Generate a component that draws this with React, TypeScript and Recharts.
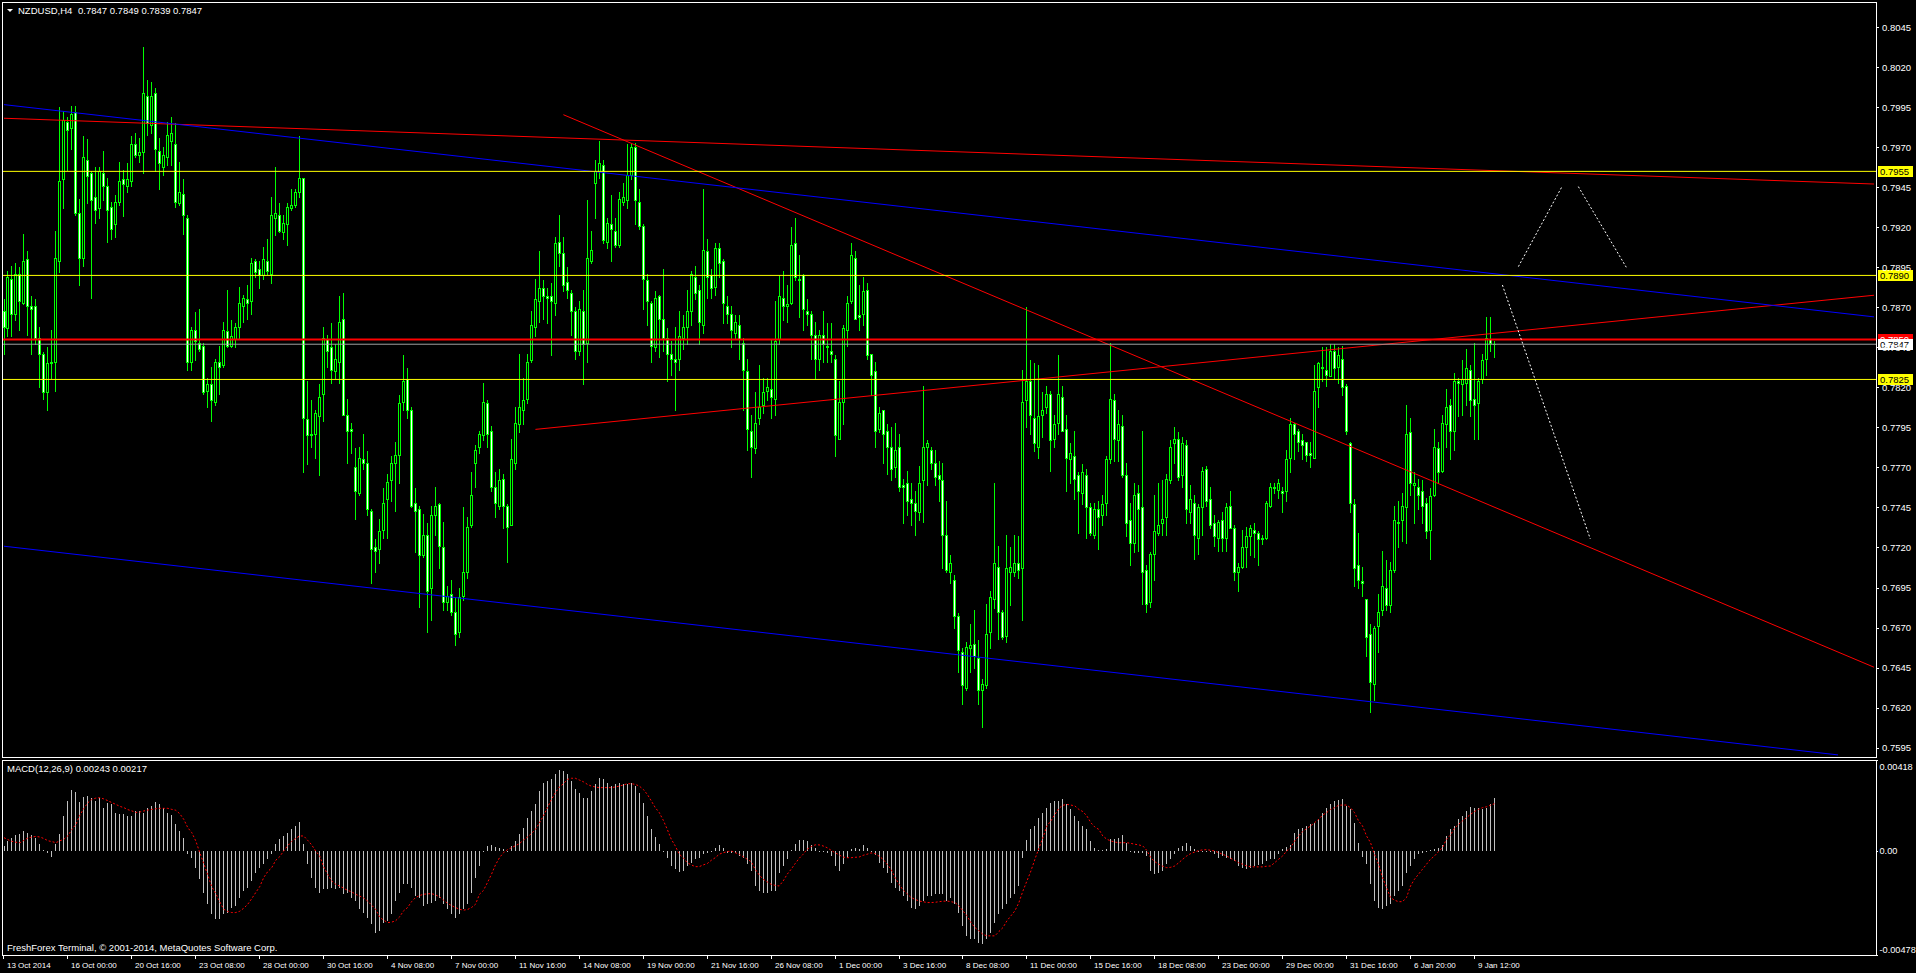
import React from 'react';
import { ComposedChart, Bar, Line, XAxis, YAxis, ReferenceLine } from 'recharts';

// NZDUSD H4 candles, 13 Oct 2014 .. 9 Jan 2015
const opens = [
  .7868, .7857, .7888, .7866, .7891, .7873, .7900, .7871, .7871, .7851,
  .7841, .7817, .7835, .7836, .7899, .7950, .7986, .7982, .7992, .7929,
  .7901, .7962, .7954, .7939, .7932, .7954, .7946, .7933, .7922, .7936,
  .7950, .7946, .7949, .7972, .7965, .7967, .8002, .7984, .8004, .7968,
  .7958, .7964, .7974, .7972, .7935, .7941, .7926, .7836, .7856, .7848,
  .7846, .7818, .7822, .7811, .7836, .7834, .7855, .7846, .7850, .7858,
  .7871, .7875, .7874, .7899, .7894, .7890, .7899, .7891, .7926, .7928,
  .7917, .7922, .7932, .7934, .7942, .7951, .7800, .7790, .7791, .7802,
  .7816, .7850, .7845, .7830, .7836, .7863, .7803, .7794, .7770, .7754,
  .7775, .7773, .7743, .7720, .7719, .7731, .7750, .7762, .7773, .7778,
  .7811, .7825, .7806, .7748, .7744, .7715, .7728, .7695, .7740, .7747,
  .7720, .7686, .7691, .7680, .7667, .7690, .7705, .7734, .7773, .7783,
  .7790, .7810, .7793, .7758, .7746, .7763, .7746, .7734, .7773, .7797,
  .7806, .7813, .7837, .7858, .7874, .7882, .7877, .7877, .7873, .7911,
  .7904, .7886, .7879, .7868, .7843, .7868, .7848, .7899, .7948, .7955,
  .7959, .7911, .7922, .7918, .7909, .7936, .7937, .7953, .7970, .7936,
  .7921, .7887, .7873, .7845, .7877, .7863, .7851, .7841, .7838, .7838,
  .7851, .7858, .7868, .7889, .7881, .7859, .7905, .7890, .7883, .7907,
  .7899, .7871, .7866, .7854, .7859, .7848, .7830, .7793, .7782, .7801,
  .7809, .7818, .7819, .7813, .7850, .7876, .7871, .7873, .7910, .7887,
  .7890, .7868, .7866, .7853, .7838, .7853, .7846, .7843, .7838, .7788,
  .7811, .7856, .7874, .7901, .7865, .7866, .7881, .7841, .7830, .7794,
  .7806, .7793, .7783, .7770, .7783, .7759, .7760, .7750, .7748, .7742,
  .7762, .7783, .7781, .7773, .7765, .7762, .7728, .7705, .7700, .7677,
  .7655, .7632, .7657, .7660, .7651, .7631, .7634, .7667, .7688, .7708,
  .7680, .7665, .7705, .7705, .7710, .7707, .7812, .7824, .7801, .7783,
  .7803, .7808, .7816, .7788, .7798, .7814, .7794, .7775, .7777, .7765,
  .7754, .7765, .7745, .7728, .7744, .7740, .7748, .7775, .7812, .7787,
  .7796, .7765, .7737, .7723, .7754, .7745, .7706, .7686, .7716, .7729,
  .7735, .7739, .7762, .7785, .7788, .7765, .7784, .7742, .7748, .7726,
  .7745, .7769, .7750, .7735, .7726, .7737, .7726, .7746, .7732, .7705,
  .7708, .7720, .7727, .7731, .7729, .7726, .7726, .7746, .7758, .7756,
  .7755, .7755, .7776, .7797, .7793, .7787, .7786, .7779, .7776, .7820,
  .7833, .7831, .7827, .7843, .7833, .7838, .7821, .7785, .7747, .7709,
  .7699, .7688, .7666, .7635, .7671, .7681, .7695, .7684, .7706, .7736,
  .7737, .7745, .7792, .7759, .7758, .7755, .7748, .7731, .7753, .7782,
  .7768, .7797, .7809, .7793, .7824, .7822, .7823, .7831, .7813, .7810,
  .7825, .7838, .7850, .7847,
];

const highs = [
  .7875, .7893, .7896, .7898, .7895, .7916, .7905, .7877, .7875, .7858,
  .7842, .7845, .7856, .7918, .7995, .7993, .7989, .7996, .7996, .7938,
  .7977, .7975, .7955, .7958, .7958, .7968, .7951, .7936, .7940, .7961,
  .7956, .7960, .7977, .7979, .7976, .8033, .8012, .8011, .8007, .7976,
  .7970, .7986, .7989, .7985, .7961, .7950, .7928, .7858, .7867, .7869,
  .7848, .7826, .7833, .7838, .7846, .7861, .7881, .7862, .7860, .7883,
  .7878, .7884, .7901, .7900, .7899, .7908, .7913, .7939, .7958, .7935,
  .7928, .7935, .7944, .7944, .7977, .7951, .7824, .7812, .7806, .7822,
  .7858, .7853, .7860, .7847, .7877, .7879, .7813, .7798, .7782, .7783,
  .7791, .7780, .7744, .7725, .7738, .7757, .7766, .7777, .7786, .7815,
  .7840, .7832, .7808, .7757, .7746, .7741, .7735, .7746, .7758, .7748,
  .7736, .7696, .7700, .7689, .7695, .7745, .7739, .7767, .7784, .7793,
  .7823, .7812, .7796, .7767, .7769, .7766, .7747, .7788, .7808, .7841,
  .7826, .7841, .7868, .7888, .7905, .7887, .7882, .7885, .7914, .7928,
  .7914, .7895, .7881, .7870, .7874, .7881, .7937, .7918, .7962, .7974,
  .7962, .7926, .7940, .7926, .7942, .7948, .7972, .7972, .7973, .7944,
  .7922, .7891, .7874, .7880, .7878, .7894, .7857, .7849, .7858, .7868,
  .7865, .7881, .7893, .7896, .7884, .7944, .7913, .7894, .7910, .7910,
  .7900, .7877, .7871, .7865, .7865, .7851, .7838, .7803, .7817, .7834,
  .7826, .7826, .7850, .7874, .7890, .7893, .7884, .7920, .7926, .7903,
  .7891, .7875, .7868, .7861, .7856, .7868, .7860, .7860, .7840, .7824,
  .7859, .7877, .7910, .7905, .7884, .7889, .7885, .7841, .7836, .7808,
  .7806, .7797, .7795, .7798, .7791, .7763, .7768, .7760, .7755, .7771,
  .7821, .7787, .7783, .7781, .7774, .7773, .7749, .7715, .7703, .7679,
  .7657, .7661, .7672, .7681, .7662, .7638, .7685, .7693, .7760, .7721,
  .7681, .7728, .7720, .7728, .7727, .7831, .7870, .7837, .7835, .7834,
  .7817, .7821, .7818, .7803, .7840, .7821, .7803, .7785, .7793, .7767,
  .7772, .7769, .7748, .7748, .7749, .7753, .7777, .7848, .7816, .7806,
  .7803, .7773, .7748, .7760, .7759, .7793, .7709, .7717, .7753, .7760,
  .7762, .7766, .7787, .7795, .7792, .7789, .7787, .7759, .7753, .7747,
  .7770, .7771, .7758, .7740, .7737, .7742, .7748, .7755, .7734, .7710,
  .7731, .7733, .7734, .7735, .7730, .7728, .7749, .7760, .7760, .7763,
  .7758, .7781, .7801, .7798, .7794, .7791, .7786, .7786, .7834, .7836,
  .7845, .7845, .7847, .7847, .7845, .7846, .7822, .7786, .7750, .7729,
  .7708, .7688, .7672, .7671, .7691, .7718, .7712, .7711, .7746, .7749,
  .7754, .7809, .7801, .7767, .7763, .7762, .7751, .7757, .7794, .7786,
  .7803, .7819, .7813, .7829, .7826, .7837, .7844, .7834, .7848, .7826,
  .7841, .7864, .7864, .7849,
];

const lows = [
  .7841, .7852, .7852, .7862, .7856, .7872, .7853, .7841, .7847, .7820,
  .7813, .7806, .7826, .7818, .7892, .7932, .7956, .7969, .7928, .7884,
  .7896, .7935, .7876, .7923, .7926, .7937, .7911, .7913, .7914, .7934,
  .7927, .7942, .7946, .7964, .7961, .7954, .7978, .7979, .7955, .7944,
  .7953, .7959, .7959, .7933, .7934, .7916, .7831, .7831, .7837, .7843,
  .7816, .7808, .7799, .7809, .7816, .7833, .7845, .7845, .7845, .7851,
  .7861, .7863, .7866, .7889, .7882, .7888, .7891, .7885, .7915, .7917,
  .7913, .7909, .7931, .7933, .7939, .7767, .7772, .7783, .7776, .7765,
  .7799, .7833, .7823, .7826, .7823, .7803, .7773, .7779, .7738, .7753,
  .7769, .7740, .7698, .7705, .7710, .7726, .7726, .7749, .7743, .7760,
  .7806, .7801, .7745, .7717, .7683, .7714, .7667, .7675, .7728, .7707,
  .7681, .7681, .7678, .7659, .7664, .7687, .7701, .7733, .7758, .7779,
  .7787, .7783, .7755, .7739, .7744, .7732, .7711, .7734, .7769, .7792,
  .7797, .7810, .7836, .7852, .7861, .7863, .7860, .7840, .7865, .7896,
  .7880, .7876, .7853, .7838, .7840, .7822, .7836, .7898, .7926, .7951,
  .7910, .7907, .7899, .7908, .7908, .7934, .7932, .7950, .7922, .7919,
  .7869, .7859, .7836, .7843, .7839, .7843, .7824, .7828, .7806, .7831,
  .7844, .7847, .7859, .7875, .7847, .7854, .7876, .7876, .7878, .7889,
  .7860, .7860, .7845, .7851, .7838, .7806, .7781, .7764, .7779, .7797,
  .7804, .7812, .7801, .7803, .7847, .7862, .7861, .7872, .7887, .7864,
  .7856, .7859, .7838, .7825, .7831, .7836, .7836, .7836, .7777, .7788,
  .7797, .7846, .7873, .7863, .7856, .7859, .7838, .7815, .7783, .7792,
  .7773, .7766, .7762, .7764, .7755, .7735, .7740, .7734, .7728, .7737,
  .7736, .7759, .7769, .7759, .7749, .7707, .7705, .7698, .7670, .7642,
  .7622, .7631, .7642, .7645, .7622, .7608, .7632, .7657, .7682, .7663,
  .7663, .7661, .7684, .7702, .7701, .7675, .7795, .7791, .7780, .7776,
  .7789, .7804, .7768, .7783, .7791, .7793, .7755, .7760, .7750, .7729,
  .7747, .7726, .7728, .7726, .7719, .7734, .7740, .7773, .7774, .7774,
  .7764, .7727, .7709, .7717, .7718, .7685, .7680, .7683, .7700, .7728,
  .7728, .7728, .7760, .7773, .7762, .7758, .7735, .7735, .7713, .7716,
  .7728, .7746, .7732, .7721, .7718, .7718, .7718, .7732, .7700, .7693,
  .7707, .7708, .7715, .7714, .7709, .7722, .7725, .7745, .7754, .7751,
  .7742, .7749, .7767, .7775, .7780, .7775, .7774, .7770, .7776, .7808,
  .7824, .7821, .7827, .7826, .7823, .7815, .7791, .7742, .7696, .7695,
  .7690, .7652, .7617, .7625, .7655, .7678, .7681, .7680, .7705, .7720,
  .7724, .7723, .7753, .7735, .7744, .7735, .7726, .7713, .7752, .7760,
  .7767, .7783, .7775, .7781, .7802, .7803, .7809, .7802, .7788, .7788,
  .7823, .7828, .7843, .7839,
];

const closes = [
  .7858, .7889, .7866, .7891, .7874, .7899, .7871, .7869, .7851, .7841,
  .7817, .7835, .7836, .7901, .7949, .7987, .7981, .7991, .7929, .7901,
  .7964, .7952, .7937, .7931, .7955, .7946, .7931, .7919, .7936, .7949,
  .7947, .7950, .7972, .7965, .7967, .8004, .7985, .8002, .7969, .7960,
  .7965, .7978, .7979, .7936, .7942, .7928, .7836, .7856, .7849, .7844,
  .7817, .7822, .7812, .7836, .7833, .7856, .7846, .7852, .7858, .7873,
  .7876, .7873, .7898, .7892, .7890, .7900, .7893, .7928, .7929, .7918,
  .7923, .7933, .7934, .7942, .7951, .7801, .7790, .7791, .7804, .7814,
  .7851, .7843, .7831, .7838, .7861, .7803, .7793, .7793, .7755, .7776,
  .7773, .7744, .7719, .7718, .7730, .7748, .7761, .7773, .7778, .7810,
  .7824, .7806, .7746, .7743, .7715, .7728, .7693, .7740, .7746, .7721,
  .7686, .7690, .7680, .7666, .7689, .7705, .7733, .7753, .7781, .7791,
  .7811, .7791, .7758, .7748, .7762, .7746, .7733, .7775, .7798, .7808,
  .7812, .7836, .7859, .7875, .7882, .7877, .7876, .7874, .7910, .7904,
  .7884, .7881, .7868, .7843, .7869, .7847, .7901, .7906, .7955, .7960,
  .7912, .7923, .7919, .7909, .7938, .7939, .7953, .7970, .7937, .7921,
  .7888, .7874, .7846, .7876, .7863, .7851, .7841, .7838, .7836, .7852,
  .7858, .7868, .7891, .7879, .7861, .7906, .7889, .7882, .7907, .7898,
  .7873, .7866, .7856, .7861, .7850, .7831, .7794, .7783, .7798, .7808,
  .7817, .7820, .7814, .7849, .7877, .7871, .7872, .7909, .7889, .7888,
  .7869, .7866, .7853, .7838, .7853, .7847, .7845, .7841, .7790, .7811,
  .7857, .7873, .7903, .7863, .7864, .7880, .7840, .7828, .7793, .7804,
  .7791, .7783, .7769, .7781, .7758, .7758, .7749, .7748, .7743, .7760,
  .7783, .7785, .7773, .7764, .7763, .7728, .7706, .7710, .7677, .7656,
  .7634, .7658, .7659, .7652, .7631, .7635, .7666, .7689, .7710, .7680,
  .7664, .7707, .7708, .7710, .7706, .7811, .7824, .7803, .7785, .7802,
  .7806, .7816, .7787, .7797, .7816, .7793, .7776, .7779, .7763, .7755,
  .7767, .7745, .7729, .7744, .7739, .7747, .7775, .7813, .7788, .7797,
  .7765, .7735, .7723, .7753, .7744, .7705, .7685, .7716, .7730, .7734,
  .7738, .7763, .7783, .7788, .7764, .7785, .7744, .7750, .7728, .7745,
  .7768, .7749, .7734, .7727, .7736, .7726, .7745, .7732, .7705, .7708,
  .7720, .7727, .7732, .7729, .7725, .7725, .7748, .7758, .7757, .7760,
  .7754, .7775, .7797, .7791, .7786, .7784, .7778, .7778, .7818, .7835,
  .7832, .7828, .7843, .7832, .7840, .7820, .7793, .7748, .7707, .7700,
  .7698, .7664, .7636, .7670, .7680, .7696, .7684, .7706, .7737, .7735,
  .7746, .7791, .7760, .7760, .7753, .7746, .7730, .7752, .7783, .7767,
  .7798, .7808, .7793, .7824, .7823, .7825, .7832, .7812, .7809, .7824,
  .7837, .7851, .7848, .7847,
];

// MACD(12,26,9) main values, in units of 0.00001
const macdE5 = [
  23, 46, 61, 73, 77, 92, 84, 73, 61, 34,
  3, -8, -28, 31, 80, 161, 230, 278, 271, 225,
  249, 252, 245, 230, 245, 199, 222, 214, 176, 168,
  168, 161, 161, 184, 184, 176, 199, 207, 225, 214,
  199, 176, 165, 122, 92, 61, -15, -31, -77, -130,
  -191, -245, -291, -314, -314, -291, -283, -260, -252, -214,
  -184, -168, -138, -99, -77, -61, -38, -15, 31, 54,
  69, 84, 99, 115, 135, 31, -58, -122, -168, -191,
  -176, -176, -168, -176, -168, -199, -191, -214, -230, -268,
  -283, -306, -337, -375, -367, -329, -321, -291, -230, -191,
  -153, -153, -168, -207, -214, -252, -245, -237, -230, -214,
  -245, -268, -291, -306, -291, -268, -245, -191, -122, -69,
  -5, 23, 26, 20, 15, 8, 0, 23, 46, 77,
  107, 150, 184, 214, 275, 314, 321, 329, 352, 370,
  367, 352, 321, 283, 268, 245, 245, 275, 306, 334,
  329, 314, 298, 306, 314, 306, 306, 314, 298, 268,
  222, 161, 99, 64, 31, 0, -31, -69, -84, -96,
  -92, -69, -54, -38, -31, -15, -8, -3, 12, 28,
  12, -8, -8, -8, -23, -31, -61, -90, -161, -184,
  -191, -191, -184, -184, -99, -69, -38, 3, 34, 49,
  49, 46, 28, 12, 0, -3, -8, -23, -69, -92,
  -61, -31, 8, 12, 8, 28, 15, -5, -18, -54,
  -77, -99, -145, -168, -184, -207, -230, -260, -268, -252,
  -230, -207, -207, -199, -199, -199, -230, -214, -245, -283,
  -344, -390, -405, -405, -421, -428, -405, -375, -329, -291,
  -268, -245, -214, -199, -161, -31, 49, 99, 115, 153,
  176, 199, 222, 230, 230, 237, 214, 191, 161, 138,
  115, 99, 46, 15, 3, 3, 8, 54, 54, 61,
  73, 38, -5, -8, -8, -8, -23, -92, -107, -99,
  -92, -61, -38, -15, 12, 23, 38, 23, 8, -3,
  -3, -3, -5, -15, -31, -23, -31, -38, -46, -69,
  -77, -84, -77, -69, -64, -61, -46, -38, -38, -15,
  8, 18, 28, 84, 99, 107, 115, 122, 130, 145,
  176, 199, 214, 230, 233, 237, 207, 191, 130, 38,
  -28, -61, -153, -230, -260, -268, -252, -245, -207, -184,
  -161, -99, -69, -38, -12, -8, 0, 3, 8, 15,
  28, 69, 99, 115, 145, 161, 184, 202, 199, 196,
  191, 199, 214, 243,
];

// MACD signal line, in units of 0.00001
const signalE5 = [
  61, 52, 44, 40, 38, 49, 60, 64, 67, 64,
  57, 47, 43, 38, 47, 54, 70, 99, 122, 165,
  196, 222, 237, 243, 245, 239, 231, 222, 214, 205,
  199, 190, 184, 177, 179, 184, 188, 191, 194, 196,
  196, 196, 191, 187, 171, 145, 107, 84, 46, -8,
  -58, -110, -165, -196, -234, -268, -278, -283, -283, -277,
  -263, -245, -219, -191, -164, -122, -95, -77, -43, -26,
  0, 24, 44, 58, 69, 69, 49, 28, 0, -23,
  -73, -107, -138, -153, -161, -171, -181, -188, -199, -207,
  -216, -230, -249, -268, -303, -318, -329, -327, -321, -303,
  -275, -260, -233, -214, -205, -199, -197, -196, -202, -211,
  -226, -240, -251, -260, -268, -272, -269, -260, -245, -199,
  -181, -145, -107, -64, -31, -8, 6, 15, 24, 34,
  50, 64, 80, 99, 129, 161, 199, 237, 268, 294,
  309, 329, 334, 334, 326, 318, 306, 298, 294, 291,
  291, 291, 291, 294, 298, 303, 309, 309, 306, 298,
  283, 260, 230, 199, 176, 141, 99, 54, 23, -15,
  -31, -54, -64, -72, -72, -64, -58, -43, -31, -15,
  -8, -3, 0, -8, -15, -26, -38, -49, -84, -110,
  -130, -142, -153, -158, -161, -138, -107, -84, -58, -34,
  -15, 8, 20, 28, 28, 23, 15, 3, -8, -18,
  -28, -31, -31, -29, -28, -20, -15, -9, -12, -24,
  -38, -61, -84, -122, -153, -179, -196, -214, -222, -230,
  -233, -237, -237, -236, -233, -231, -230, -233, -237, -252,
  -275, -298, -329, -352, -367, -383, -390, -390, -390, -370,
  -352, -321, -298, -275, -237, -184, -138, -92, -38, 12,
  61, 115, 138, 168, 196, 210, 214, 211, 207, 191,
  181, 161, 130, 110, 99, 69, 54, 46, 41, 38,
  38, 38, 35, 31, 28, 23, 3, -31, -49, -61,
  -70, -77, -75, -69, -54, -38, -23, -12, -5, 2,
  5, 6, 3, 0, -8, -15, -23, -34, -43, -54,
  -61, -69, -72, -73, -73, -73, -70, -69, -54, -38,
  -23, 0, 15, 46, 69, 89, 103, 115, 130, 145,
  165, 176, 191, 199, 210, 211, 211, 199, 176, 138,
  115, 69, 38, -15, -61, -122, -168, -214, -226, -233,
  -233, -214, -161, -130, -107, -84, -61, -38, -23, -3,
  15, 54, 73, 104, 122, 138, 153, 168, 181, 191,
  199, 203, 210, 217,
];

// one label every 16 bars
const timeLabels = [
  '13 Oct 2014', '16 Oct 00:00', '20 Oct 16:00', '23 Oct 08:00', '28 Oct 00:00', '30 Oct 16:00',
  '4 Nov 08:00', '7 Nov 00:00', '11 Nov 16:00', '14 Nov 08:00', '19 Nov 00:00', '21 Nov 16:00',
  '26 Nov 08:00', '1 Dec 00:00', '3 Dec 16:00', '8 Dec 08:00', '11 Dec 00:00', '15 Dec 16:00',
  '18 Dec 08:00', '23 Dec 00:00', '29 Dec 00:00', '31 Dec 16:00', '6 Jan 20:00', '9 Jan 12:00',
];

const priceTicks = [
  0.7595, 0.762, 0.7645, 0.767, 0.7695, 0.772, 0.7745, 0.777, 0.7795, 0.782,
  0.7845, 0.787, 0.7895, 0.792, 0.7945, 0.797, 0.7995, 0.802, 0.8045,
];
const macdTicks = [-0.00478, 0, 0.00418];

// horizontal levels
const supportLevels = [0.7955, 0.789, 0.7825];
const stopLevel = 0.785;

// drawn lines, end points as [bar index, price]
const blueLines = [
  [[0, 0.79967], [468, 0.78641]],
  [[0, 0.77208], [459, 0.75904]],
];
const redLines = [
  [[0, 0.79882], [468, 0.79471]],
  [[140, 0.79904], [468, 0.76452]],
  [[133, 0.77938], [468, 0.78776]],
];
const forecastLines = [
  [[379, 0.78955], [390, 0.79459]],
  [[394, 0.79455], [406, 0.78951]],
  [[375, 0.7884], [397, 0.77253]],
];

const SLOTS = 469; // bars plus the empty shift area on the right
const PRICE_MIN = 0.75891;
const PRICE_MAX = 0.80602;
const MACD_MIN = -0.00478;
const MACD_MAX = 0.00418;

const FONT = '"Liberation Sans", Arial, sans-serif';
const LIME = '#00ff00';
const last = closes.length - 1;

const rows = Array.from({ length: SLOTS }, (_, i) =>
  i <= last
    ? {
        i,
        o: opens[i],
        h: highs[i],
        l: lows[i],
        c: closes[i],
        range: [lows[i], highs[i]],
        macd: macdE5[i] / 1e5,
        signal: signalE5[i] / 1e5,
      }
    : { i }
);

const Candle = (props: any) => {
  const { x, y, width, height, payload } = props;
  if (!payload || payload.c == null) return <g />;
  const top = Math.min(y, y + height);
  const bottom = Math.max(y, y + height);
  const toY = (p: number) => top + ((payload.h - p) / (payload.h - payload.l)) * (bottom - top);
  const cx = Math.floor(x + width / 2) + 0.5;
  const yo = Math.round(toY(payload.o));
  const yc = Math.round(toY(payload.c));
  const bodyTop = Math.min(yo, yc);
  const bodyH = Math.abs(yo - yc);
  const up = payload.c >= payload.o;
  return (
    <g shapeRendering="crispEdges">
      <line x1={cx} x2={cx} y1={Math.round(top)} y2={Math.round(bottom) + 1} stroke={LIME} />
      {bodyH < 1 ? (
        <line x1={cx - 1.5} x2={cx + 1.5} y1={bodyTop + 0.5} y2={bodyTop + 0.5} stroke={LIME} />
      ) : (
        <rect x={cx - 1} y={bodyTop + 0.5} width={2} height={bodyH} fill={up ? '#000' : '#fff'} stroke={LIME} />
      )}
    </g>
  );
};

const HistBar = (props: any) => {
  const { x, y, width, height } = props;
  if (y == null || isNaN(y) || height == null) return <g />;
  const top = Math.min(y, y + height);
  const h = Math.max(Math.abs(height), 1);
  return <rect x={Math.floor(x + width / 2)} y={Math.round(top)} width={1} height={Math.round(h)} fill="#c0c0c0" shapeRendering="crispEdges" />;
};

const PriceTick = (props: any) => {
  const { x, y, payload } = props;
  const ty = Math.round(y) + 0.5;
  return (
    <g>
      <line x1={x} x2={x + 3} y1={ty} y2={ty} stroke="#fff" shapeRendering="crispEdges" />
      <text x={x + 6} y={y + 3.5} fill="#fff" fontSize={9.5} fontFamily={FONT}>
        {payload.value.toFixed(4)}
      </text>
    </g>
  );
};

const MacdTick = (props: any) => {
  const { x, y, payload } = props;
  const v = payload.value;
  const dy = v === MACD_MAX ? 10 : v === MACD_MIN ? -2.5 : 3;
  const ty = Math.round(y) + 0.5;
  return (
    <g>
      <line x1={x} x2={x + 2} y1={ty} y2={ty} stroke="#fff" shapeRendering="crispEdges" />
      <text x={x + 3.5} y={y + dy} fill="#fff" fontSize={9.2} fontFamily={FONT}>
        {v === 0 ? '0.00' : v.toFixed(5)}
      </text>
    </g>
  );
};

const TimeTick = (props: any) => {
  const { x, y, payload } = props;
  const k = payload.value / 16;
  const label = Number.isInteger(k) ? timeLabels[k] : undefined;
  if (!label) return <g />;
  const tx = Math.floor(x) + 0.5;
  return (
    <g>
      <line x1={tx} x2={tx} y1={y} y2={y + 4} stroke="#fff" shapeRendering="crispEdges" />
      <text x={tx + 3.5} y={y + 12.5} fill="#fff" fontSize={8} fontFamily={FONT}>
        {label}
      </text>
    </g>
  );
};

const priceBox = (text: string, bg: string, fg: string) => (props: any) => {
  const vb = props.viewBox || {};
  const yy = Math.round(vb.y);
  const xx = vb.x + vb.width;
  return (
    <g>
      <rect x={xx + 2} y={yy - 5} width={35} height={11} fill={bg} />
      <text x={xx + 4} y={yy + 4} fill={fg} fontSize={9.5} fontFamily={FONT}>
        {text}
      </text>
    </g>
  );
};

const segLine = (seg: number[][], color: string, key: string, dash?: string) => (
  <ReferenceLine
    key={key}
    segment={[
      { x: seg[0][0], y: seg[0][1] },
      { x: seg[1][0], y: seg[1][1] },
    ]}
    stroke={color}
    strokeWidth={1}
    strokeDasharray={dash}
    ifOverflow="visible"
  />
);

export default function App() {
  const bid = closes[last];
  const ohlc = [opens[last], highs[last], lows[last], closes[last]].map((v) => v.toFixed(4)).join(' ');
  const macdText = `MACD(12,26,9) ${(macdE5[last] / 1e5).toFixed(5)} ${(signalE5[last] / 1e5).toFixed(5)}`;

  return (
    <div style={{ position: 'relative', width: 1916, height: 973, background: '#000', overflow: 'hidden' }}>
      <style>{'body{margin:0;background:#000}'}</style>

      <div style={{ position: 'absolute', left: 0, top: 0 }}>
        <ComposedChart width={1916} height={760} data={rows} margin={{ top: 3, right: 0, bottom: 3, left: 2 }} barCategoryGap={0} barGap={0}>
          <XAxis dataKey="i" type="category" hide />
          <YAxis
            orientation="right"
            type="number"
            domain={[PRICE_MIN, PRICE_MAX]}
            ticks={priceTicks}
            interval={0}
            width={40}
            axisLine={false}
            tickLine={false}
            tickSize={0}
            tickMargin={0}
            tick={PriceTick}
            allowDataOverflow
          />
          <Bar dataKey="range" shape={(p: any) => <Candle {...p} />} isAnimationActive={false} />
          {redLines.map((s, k) => segLine(s, '#ff0000', `r${k}`))}
          {blueLines.map((s, k) => segLine(s, '#0000ff', `b${k}`))}
          {supportLevels.map((lv) => (
            <ReferenceLine key={lv} y={lv} stroke="#ffff00" strokeWidth={1} label={priceBox(lv.toFixed(4), '#ffff00', '#000')} />
          ))}
          <ReferenceLine y={stopLevel} stroke="#ff0000" strokeWidth={2} label={priceBox(stopLevel.toFixed(4), '#ff0000', '#fff')} />
          <ReferenceLine y={bid} stroke="#a0a0a0" strokeWidth={1} label={priceBox(bid.toFixed(4), '#fff', '#000')} />
          {forecastLines.map((s, k) => segLine(s, '#ffffff', `f${k}`, '2 2'))}
        </ComposedChart>
      </div>

      <div style={{ position: 'absolute', left: 0, top: 757 }}>
        <ComposedChart width={1916} height={216} data={rows} margin={{ top: 3, right: 0, bottom: 0, left: 2 }} barCategoryGap={0} barGap={0}>
          <XAxis
            dataKey="i"
            type="category"
            height={18}
            interval={15}
            axisLine={false}
            tickLine={false}
            tickSize={0}
            tickMargin={0}
            tick={TimeTick}
          />
          <YAxis
            orientation="right"
            type="number"
            domain={[MACD_MIN, MACD_MAX]}
            ticks={macdTicks}
            interval={0}
            width={40}
            axisLine={false}
            tickLine={false}
            tickSize={0}
            tickMargin={0}
            tick={MacdTick}
            allowDataOverflow
          />
          <Bar dataKey="macd" shape={(p: any) => <HistBar {...p} />} isAnimationActive={false} />
          <Line dataKey="signal" stroke="#ff0000" strokeWidth={1} strokeDasharray="2 2" dot={false} activeDot={false} isAnimationActive={false} />
        </ComposedChart>
      </div>

      <svg width={1916} height={973} style={{ position: 'absolute', left: 0, top: 0, pointerEvents: 'none' }}>
        <rect x={2.5} y={2.5} width={1874} height={755} fill="none" stroke="#fff" shapeRendering="crispEdges" />
        <rect x={2.5} y={760.5} width={1874} height={195} fill="none" stroke="#fff" shapeRendering="crispEdges" />
        <polygon points="7,9 13,9 10,12" fill="#fff" />
        <text x={18} y={14} fill="#fff" fontSize={9.5} fontFamily={FONT}>
          NZDUSD,H4
        </text>
        <text x={78} y={14} fill="#fff" fontSize={9.5} fontFamily={FONT}>
          {ohlc}
        </text>
        <text x={7} y={772} fill="#fff" fontSize={9.5} fontFamily={FONT}>
          {macdText}
        </text>
        <text x={7} y={951} fill="#fff" fontSize={9.5} fontFamily={FONT}>
          FreshForex Terminal, © 2001-2014, MetaQuotes Software Corp.
        </text>
      </svg>
    </div>
  );
}
